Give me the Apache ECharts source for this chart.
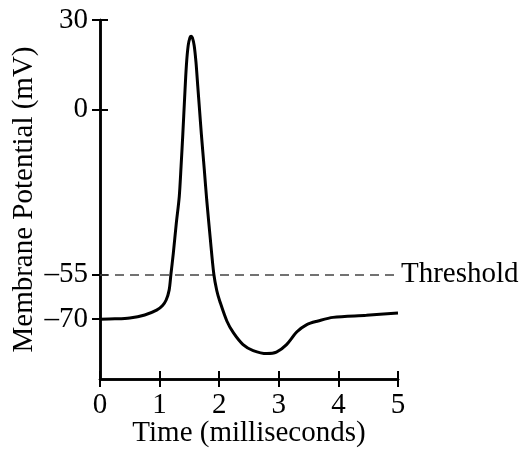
<!DOCTYPE html>
<html>
<head>
<meta charset="utf-8">
<script src="https://cdn.jsdelivr.net/npm/echarts@6/dist/echarts.min.js"></script>
<style>
html,body{margin:0;padding:0;background:#fff;}
#chart{width:519px;height:449px;}
</style>
</head>
<body>
<div id="chart"></div>
<script>
var timeMs = [0, 0.25, 0.5, 0.75, 0.95, 1.05, 1.11, 1.16, 1.19, 1.23, 1.28, 1.33, 1.36, 1.39, 1.42, 1.45, 1.48, 1.51, 1.53, 1.55, 1.58, 1.61, 1.64, 1.67, 1.70, 1.75, 1.79, 1.85, 1.91, 1.96, 2.01, 2.13, 2.24, 2.40, 2.57, 2.80, 2.96, 3.13, 3.30, 3.47, 3.66, 3.91, 4.47, 5.0];
var voltage = [-70, -69.9, -69.6, -68.6, -67, -65.4, -63.6, -60.3, -55, -48, -38, -29, -19, -8, 4, 15, 21.5, 24.2, 24.6, 24.1, 21.5, 16, 8, 0, -8, -20, -30, -43, -55, -60.5, -64, -70.7, -74.6, -78.5, -80.5, -81.5, -81, -78.5, -74.3, -71.8, -70.6, -69.4, -68.7, -67.9];
var yTickValues = [30, 0, -55, -70];
var thresholdValue = -55;
var thresholdLabel = 'Threshold';
var xName = 'Time (milliseconds)';
var yName = 'Membrane Potential (mV)';

var FONT = '"Liberation Serif", "DejaVu Serif", serif';
var points = timeMs.map(function (t, i) { return [t, voltage[i]]; });

var chart = echarts.init(document.getElementById('chart'));
var axisLineStyle = { color: '#000', width: 2.5 };
var labelStyle = { color: '#000', fontFamily: FONT, fontSize: 29 };
var tickStyle = { color: '#000', width: 2 };
var GRID_LEFT = 100, GRID_RIGHT = 121, GRID_TOP = 20, GRID_BOTTOM = 70;
var plotW = 519 - GRID_LEFT - GRID_RIGHT;
var plotH = 449 - GRID_TOP - GRID_BOTTOM;

chart.setOption({
  animation: false,
  backgroundColor: '#fff',
  grid: { left: GRID_LEFT, right: GRID_RIGHT, top: GRID_TOP, bottom: GRID_BOTTOM, containLabel: false, outerBoundsMode: 'none' },
  xAxis: [{
    type: 'value', min: 0, max: 5, interval: 1, position: 'bottom',
    name: xName, nameLocation: 'middle', nameGap: 40, nameMoveOverlap: false,
    nameTextStyle: labelStyle,
    axisLine: { show: true, onZero: false, lineStyle: axisLineStyle },
    axisTick: { show: true, inside: false, length: 8, lineStyle: tickStyle },
    axisLabel: { show: true, margin: 12, color: '#000', fontFamily: FONT, fontSize: 29 },
    splitLine: { show: false }
  }, {
    // companion axis placed on the bottom edge to draw the inner half of the crossing ticks
    type: 'value', min: 0, max: 5, interval: 1, position: 'top', offset: -plotH,
    axisLine: { show: true, onZero: false, lineStyle: { color: '#000', width: 2.5 } },
    axisTick: { show: true, inside: false, length: 8, lineStyle: tickStyle },
    axisLabel: { show: false },
    splitLine: { show: false }
  }],
  yAxis: [{
    type: 'value', min: -90, max: 30, position: 'left',
    name: yName, nameLocation: 'middle', nameGap: 61, nameMoveOverlap: false,
    nameTextStyle: labelStyle,
    axisLine: { show: true, onZero: false, lineStyle: axisLineStyle },
    axisTick: { show: true, inside: false, length: 8, customValues: yTickValues, lineStyle: tickStyle },
    axisLabel: { show: true, margin: 12, customValues: yTickValues, color: '#000', fontFamily: FONT, fontSize: 29,
      formatter: function (v) { return v < 0 ? '\u2013' + Math.abs(v) : String(v); } },
    splitLine: { show: false }
  }, {
    type: 'value', min: -90, max: 30, position: 'right', offset: -plotW,
    axisLine: { show: true, onZero: false, lineStyle: { color: '#000', width: 2.5 } },
    axisTick: { show: true, inside: false, length: 8, customValues: yTickValues, lineStyle: tickStyle },
    axisLabel: { show: false, customValues: yTickValues },
    splitLine: { show: false }
  }],
  series: [{
    type: 'line',
    xAxisIndex: 0, yAxisIndex: 0,
    data: points,
    smooth: 0.3,
    showSymbol: false,
    lineStyle: { color: '#000', width: 3 },
    z: 5,
    markLine: {
      silent: true,
      symbol: ['none', 'none'],
      lineStyle: { color: '#444', width: 1.5, type: [9, 6] },
      label: { show: true, position: 'end', formatter: thresholdLabel, distance: 3, color: '#000', fontFamily: FONT, fontSize: 29 },
      data: [[{ coord: [0, thresholdValue] }, { coord: [5, thresholdValue] }]]
    }
  }, {
    type: 'line',
    xAxisIndex: 1, yAxisIndex: 1,
    data: points,
    silent: true,
    showSymbol: false,
    lineStyle: { opacity: 0 }
  }]
});
</script>
</body>
</html>
